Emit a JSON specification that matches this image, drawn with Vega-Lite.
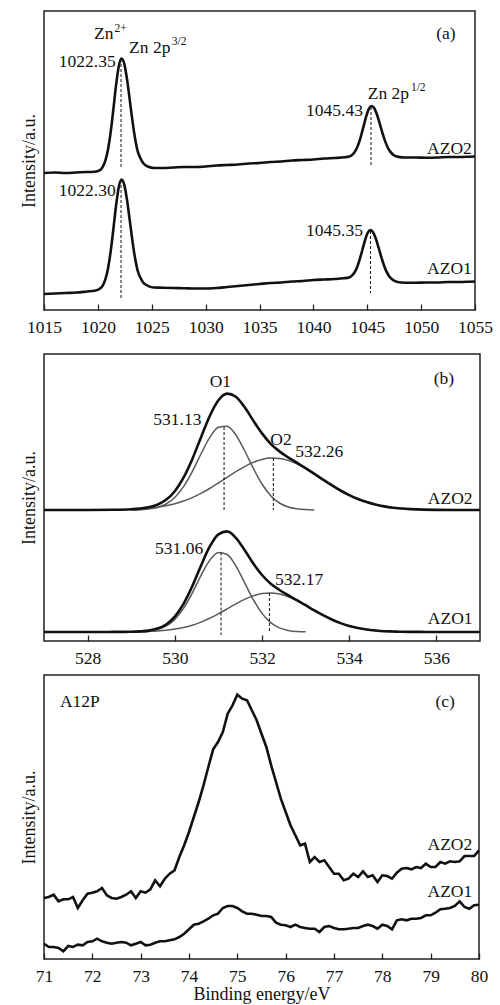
{
"$schema": "https://vega.github.io/schema/vega-lite/v6.json",
"padding": {"left": 19, "top": 10, "right": 3, "bottom": 0},
"background": "white",
"config": {
  "view": {"stroke": "#222", "strokeWidth": 1.5},
  "font": "Liberation Serif",
  "axis": {"grid": false, "labelFont": "Liberation Serif", "titleFont": "Liberation Serif", "labelFontSize": 17.5, "titleFontSize": 18, "titleFontWeight": "normal", "labelColor": "#111", "titleColor": "#111"},
  "axisX": {"domain": false, "tickSize": -6, "tickColor": "#222", "tickWidth": 1.3, "labelPadding": 14, "labelOverlap": false, "labelBound": false, "labelFlush": false, "format": "d"},
  "axisY": {"domain": false, "ticks": false, "labels": false, "titlePadding": 6},
  "text": {"font": "Liberation Serif", "fontSize": 17.5, "color": "#111"}
},
"datasets": {
  "a": [
    {"x":1015,"y":137,"s":"AZO2"},{"x":1016,"y":137.5,"s":"AZO2"},{"x":1017,"y":137,"s":"AZO2"},{"x":1018,"y":137.5,"s":"AZO2"},{"x":1019,"y":138,"s":"AZO2"},{"x":1019.7,"y":138.2,"s":"AZO2"},{"x":1020.2,"y":139.9,"s":"AZO2"},{"x":1020.45,"y":143.1,"s":"AZO2"},{"x":1020.7,"y":149.6,"s":"AZO2"},{"x":1020.95,"y":161.1,"s":"AZO2"},{"x":1021.2,"y":178.9,"s":"AZO2"},{"x":1021.45,"y":201.9,"s":"AZO2"},{"x":1021.7,"y":225.8,"s":"AZO2"},{"x":1021.95,"y":244.3,"s":"AZO2"},{"x":1022.2,"y":251.5,"s":"AZO2"},{"x":1022.45,"y":246.2,"s":"AZO2"},{"x":1022.7,"y":231.2,"s":"AZO2"},{"x":1022.95,"y":210.9,"s":"AZO2"},{"x":1023.2,"y":189.9,"s":"AZO2"},{"x":1023.45,"y":171.8,"s":"AZO2"},{"x":1023.7,"y":158.6,"s":"AZO2"},{"x":1023.95,"y":151.8,"s":"AZO2"},{"x":1024.2,"y":146.9,"s":"AZO2"},{"x":1024.7,"y":143.2,"s":"AZO2"},{"x":1025.2,"y":142,"s":"AZO2"},{"x":1026,"y":142,"s":"AZO2"},{"x":1027,"y":142.5,"s":"AZO2"},{"x":1028,"y":143,"s":"AZO2"},{"x":1029,"y":143,"s":"AZO2"},{"x":1030,"y":143.5,"s":"AZO2"},{"x":1031,"y":144.5,"s":"AZO2"},{"x":1032,"y":145,"s":"AZO2"},{"x":1033,"y":145.5,"s":"AZO2"},{"x":1034,"y":146.5,"s":"AZO2"},{"x":1035,"y":147,"s":"AZO2"},{"x":1036,"y":148,"s":"AZO2"},{"x":1037,"y":148.5,"s":"AZO2"},{"x":1038,"y":149.5,"s":"AZO2"},{"x":1039,"y":150,"s":"AZO2"},{"x":1040,"y":150.5,"s":"AZO2"},{"x":1041,"y":151.5,"s":"AZO2"},{"x":1042,"y":152,"s":"AZO2"},{"x":1042.9,"y":152.7,"s":"AZO2"},{"x":1043.4,"y":153.8,"s":"AZO2"},{"x":1043.65,"y":155.6,"s":"AZO2"},{"x":1043.9,"y":159.1,"s":"AZO2"},{"x":1044.15,"y":164.9,"s":"AZO2"},{"x":1044.4,"y":173.2,"s":"AZO2"},{"x":1044.65,"y":183.3,"s":"AZO2"},{"x":1044.9,"y":193.5,"s":"AZO2"},{"x":1045.15,"y":201.2,"s":"AZO2"},{"x":1045.4,"y":204,"s":"AZO2"},{"x":1045.65,"y":201.7,"s":"AZO2"},{"x":1045.9,"y":195.5,"s":"AZO2"},{"x":1046.15,"y":186.7,"s":"AZO2"},{"x":1046.4,"y":177.4,"s":"AZO2"},{"x":1046.65,"y":169.1,"s":"AZO2"},{"x":1046.9,"y":162.5,"s":"AZO2"},{"x":1047.15,"y":158.1,"s":"AZO2"},{"x":1047.4,"y":155.3,"s":"AZO2"},{"x":1047.9,"y":153.1,"s":"AZO2"},{"x":1048.5,"y":152.5,"s":"AZO2"},{"x":1049.5,"y":152.5,"s":"AZO2"},{"x":1050.5,"y":152.3,"s":"AZO2"},{"x":1051.5,"y":152.5,"s":"AZO2"},{"x":1052.5,"y":153,"s":"AZO2"},{"x":1053.5,"y":153,"s":"AZO2"},{"x":1054.5,"y":153.3,"s":"AZO2"},{"x":1055,"y":153.5,"s":"AZO2"},
    {"x":1015,"y":16,"s":"AZO1"},{"x":1016,"y":16.5,"s":"AZO1"},{"x":1017,"y":17,"s":"AZO1"},{"x":1018,"y":17.5,"s":"AZO1"},{"x":1019,"y":18.5,"s":"AZO1"},{"x":1019.7,"y":19.2,"s":"AZO1"},{"x":1020.2,"y":21.4,"s":"AZO1"},{"x":1020.45,"y":24.4,"s":"AZO1"},{"x":1020.7,"y":30.8,"s":"AZO1"},{"x":1020.95,"y":42.1,"s":"AZO1"},{"x":1021.2,"y":59.6,"s":"AZO1"},{"x":1021.45,"y":82,"s":"AZO1"},{"x":1021.7,"y":105.5,"s":"AZO1"},{"x":1021.95,"y":123.6,"s":"AZO1"},{"x":1022.2,"y":130.5,"s":"AZO1"},{"x":1022.45,"y":125.2,"s":"AZO1"},{"x":1022.7,"y":110.4,"s":"AZO1"},{"x":1022.95,"y":90.4,"s":"AZO1"},{"x":1023.2,"y":69.7,"s":"AZO1"},{"x":1023.45,"y":52,"s":"AZO1"},{"x":1023.7,"y":39,"s":"AZO1"},{"x":1023.95,"y":32.2,"s":"AZO1"},{"x":1024.2,"y":27.6,"s":"AZO1"},{"x":1024.7,"y":23.9,"s":"AZO1"},{"x":1025.2,"y":22.5,"s":"AZO1"},{"x":1026,"y":22.3,"s":"AZO1"},{"x":1027,"y":22,"s":"AZO1"},{"x":1028,"y":21.8,"s":"AZO1"},{"x":1029,"y":21.5,"s":"AZO1"},{"x":1030,"y":21.5,"s":"AZO1"},{"x":1031,"y":22,"s":"AZO1"},{"x":1032,"y":23,"s":"AZO1"},{"x":1033,"y":24,"s":"AZO1"},{"x":1034,"y":25,"s":"AZO1"},{"x":1035,"y":26,"s":"AZO1"},{"x":1036,"y":27,"s":"AZO1"},{"x":1037,"y":27.5,"s":"AZO1"},{"x":1038,"y":28.5,"s":"AZO1"},{"x":1039,"y":29,"s":"AZO1"},{"x":1040,"y":30,"s":"AZO1"},{"x":1041,"y":30.5,"s":"AZO1"},{"x":1042,"y":31,"s":"AZO1"},{"x":1042.8,"y":31.7,"s":"AZO1"},{"x":1043.3,"y":32.5,"s":"AZO1"},{"x":1043.55,"y":34.1,"s":"AZO1"},{"x":1043.8,"y":37.3,"s":"AZO1"},{"x":1044.05,"y":42.6,"s":"AZO1"},{"x":1044.3,"y":50.6,"s":"AZO1"},{"x":1044.55,"y":60.2,"s":"AZO1"},{"x":1044.8,"y":70,"s":"AZO1"},{"x":1045.05,"y":77.3,"s":"AZO1"},{"x":1045.3,"y":80,"s":"AZO1"},{"x":1045.55,"y":77.6,"s":"AZO1"},{"x":1045.8,"y":71.2,"s":"AZO1"},{"x":1046.05,"y":62.5,"s":"AZO1"},{"x":1046.3,"y":53.1,"s":"AZO1"},{"x":1046.55,"y":44.8,"s":"AZO1"},{"x":1046.8,"y":38.1,"s":"AZO1"},{"x":1047.05,"y":33.6,"s":"AZO1"},{"x":1047.3,"y":30.7,"s":"AZO1"},{"x":1047.8,"y":28.1,"s":"AZO1"},{"x":1048.5,"y":27.3,"s":"AZO1"},{"x":1049.5,"y":27.3,"s":"AZO1"},{"x":1050.5,"y":27.5,"s":"AZO1"},{"x":1051.5,"y":27.5,"s":"AZO1"},{"x":1052.5,"y":28,"s":"AZO1"},{"x":1053.5,"y":28,"s":"AZO1"},{"x":1054.5,"y":28.3,"s":"AZO1"},{"x":1055,"y":28.5,"s":"AZO1"}
  ],
  "ra": [{"x":1022.15,"y":251,"y2":142},{"x":1022.15,"y":130,"y2":12},{"x":1045.35,"y":203,"y2":144},{"x":1045.3,"y":79,"y2":17}],
  "ta_r": [{"x":1021.65,"y":248,"t":"1022.35"},{"x":1021.65,"y":119,"t":"1022.30"},{"x":1044.6,"y":199,"t":"1045.43"},{"x":1044.6,"y":79,"t":"1045.35"},{"x":1054.7,"y":160.7,"t":"AZO2"},{"x":1054.7,"y":40.7,"t":"AZO1"}],
  "ta_l": [{"x":1019.65,"y":275.7,"t":"Zn"},{"x":1022.9,"y":262.3,"t":"Zn 2p"},{"x":1045.05,"y":215.7,"t":"Zn 2p"},{"x":1051.4,"y":275.7,"t":"(a)"}],
  "ta_s": [{"x":1021.55,"y":281,"t":"2+"},{"x":1026.85,"y":268,"t":"3/2"},{"x":1049.05,"y":222,"t":"1/2"}],
  "b": [
    {"x":527,"y":131,"s":"AZO2","c":"env"},{"x":528,"y":131,"s":"AZO2","c":"env"},{"x":528.6,"y":131.2,"s":"AZO2","c":"env"},
    {"x":529.0,"y":131.7,"s":"AZO2","c":"env"},{"x":529.2,"y":132.4,"s":"AZO2","c":"env"},{"x":529.4,"y":133.7,"s":"AZO2","c":"env"},{"x":529.6,"y":136.3,"s":"AZO2","c":"env"},{"x":529.8,"y":141.2,"s":"AZO2","c":"env"},{"x":530.0,"y":149.8,"s":"AZO2","c":"env"},{"x":530.2,"y":163.3,"s":"AZO2","c":"env"},{"x":530.4,"y":181.8,"s":"AZO2","c":"env"},{"x":530.6,"y":203.6,"s":"AZO2","c":"env"},{"x":530.8,"y":224.8,"s":"AZO2","c":"env"},{"x":531.0,"y":240.7,"s":"AZO2","c":"env"},{"x":531.2,"y":247.4,"s":"AZO2","c":"env"},{"x":531.4,"y":244.3,"s":"AZO2","c":"env"},{"x":531.6,"y":233.9,"s":"AZO2","c":"env"},{"x":531.8,"y":220.4,"s":"AZO2","c":"env"},{"x":532.0,"y":207.6,"s":"AZO2","c":"env"},{"x":532.2,"y":197.2,"s":"AZO2","c":"env"},{"x":532.4,"y":189.6,"s":"AZO2","c":"env"},{"x":532.6,"y":183.6,"s":"AZO2","c":"env"},{"x":532.8,"y":178.3,"s":"AZO2","c":"env"},{"x":533.0,"y":172.9,"s":"AZO2","c":"env"},{"x":533.2,"y":167.2,"s":"AZO2","c":"env"},{"x":533.4,"y":161.4,"s":"AZO2","c":"env"},{"x":533.6,"y":155.8,"s":"AZO2","c":"env"},{"x":533.8,"y":150.5,"s":"AZO2","c":"env"},{"x":534.0,"y":145.9,"s":"AZO2","c":"env"},{"x":534.2,"y":142.0,"s":"AZO2","c":"env"},{"x":534.4,"y":138.9,"s":"AZO2","c":"env"},{"x":534.6,"y":136.4,"s":"AZO2","c":"env"},{"x":534.8,"y":134.6,"s":"AZO2","c":"env"},{"x":535.0,"y":133.3,"s":"AZO2","c":"env"},{"x":535.2,"y":132.5,"s":"AZO2","c":"env"},{"x":535.4,"y":131.9,"s":"AZO2","c":"env"},{"x":536,"y":131.1,"s":"AZO2","c":"env"},{"x":537,"y":131,"s":"AZO2","c":"env"},
    {"x":529.0,"y":131.1,"s":"AZO2","c":"O1"},{"x":529.2,"y":131.3,"s":"AZO2","c":"O1"},{"x":529.4,"y":131.9,"s":"AZO2","c":"O1"},{"x":529.6,"y":133.5,"s":"AZO2","c":"O1"},{"x":529.8,"y":137.0,"s":"AZO2","c":"O1"},{"x":530.0,"y":143.5,"s":"AZO2","c":"O1"},{"x":530.2,"y":154.3,"s":"AZO2","c":"O1"},{"x":530.4,"y":169.4,"s":"AZO2","c":"O1"},{"x":530.6,"y":187.0,"s":"AZO2","c":"O1"},{"x":530.8,"y":203.3,"s":"AZO2","c":"O1"},{"x":531.0,"y":213.7,"s":"AZO2","c":"O1"},{"x":531.2,"y":214.7,"s":"AZO2","c":"O1"},{"x":531.4,"y":206.0,"s":"AZO2","c":"O1"},{"x":531.6,"y":190.5,"s":"AZO2","c":"O1"},{"x":531.8,"y":172.8,"s":"AZO2","c":"O1"},{"x":532.0,"y":157.0,"s":"AZO2","c":"O1"},{"x":532.2,"y":145.3,"s":"AZO2","c":"O1"},{"x":532.4,"y":138.0,"s":"AZO2","c":"O1"},{"x":532.6,"y":134.0,"s":"AZO2","c":"O1"},{"x":532.8,"y":132.2,"s":"AZO2","c":"O1"},{"x":533.0,"y":131.4,"s":"AZO2","c":"O1"},{"x":533.2,"y":131.1,"s":"AZO2","c":"O1"},
    {"x":529.0,"y":131.6,"s":"AZO2","c":"O2"},{"x":529.2,"y":132.1,"s":"AZO2","c":"O2"},{"x":529.4,"y":132.8,"s":"AZO2","c":"O2"},{"x":529.6,"y":133.8,"s":"AZO2","c":"O2"},{"x":529.8,"y":135.3,"s":"AZO2","c":"O2"},{"x":530.0,"y":137.3,"s":"AZO2","c":"O2"},{"x":530.2,"y":140.0,"s":"AZO2","c":"O2"},{"x":530.4,"y":143.4,"s":"AZO2","c":"O2"},{"x":530.6,"y":147.6,"s":"AZO2","c":"O2"},{"x":530.8,"y":152.5,"s":"AZO2","c":"O2"},{"x":531.0,"y":158.0,"s":"AZO2","c":"O2"},{"x":531.2,"y":163.7,"s":"AZO2","c":"O2"},{"x":531.4,"y":169.3,"s":"AZO2","c":"O2"},{"x":531.6,"y":174.4,"s":"AZO2","c":"O2"},{"x":531.8,"y":178.6,"s":"AZO2","c":"O2"},{"x":532.0,"y":181.6,"s":"AZO2","c":"O2"},{"x":532.2,"y":182.9,"s":"AZO2","c":"O2"},{"x":532.4,"y":182.6,"s":"AZO2","c":"O2"},{"x":532.6,"y":180.6,"s":"AZO2","c":"O2"},{"x":532.8,"y":177.1,"s":"AZO2","c":"O2"},{"x":533.0,"y":172.5,"s":"AZO2","c":"O2"},{"x":533.2,"y":167.1,"s":"AZO2","c":"O2"},{"x":533.4,"y":161.4,"s":"AZO2","c":"O2"},{"x":533.6,"y":155.8,"s":"AZO2","c":"O2"},{"x":533.8,"y":150.5,"s":"AZO2","c":"O2"},{"x":534.0,"y":145.9,"s":"AZO2","c":"O2"},{"x":534.2,"y":142.0,"s":"AZO2","c":"O2"},{"x":534.4,"y":138.9,"s":"AZO2","c":"O2"},{"x":534.6,"y":136.4,"s":"AZO2","c":"O2"},{"x":534.8,"y":134.6,"s":"AZO2","c":"O2"},{"x":535.0,"y":133.3,"s":"AZO2","c":"O2"},{"x":535.2,"y":132.5,"s":"AZO2","c":"O2"},{"x":535.4,"y":131.9,"s":"AZO2","c":"O2"},
    {"x":527,"y":9,"s":"AZO1","c":"env"},{"x":528,"y":9,"s":"AZO1","c":"env"},{"x":528.6,"y":9.1,"s":"AZO1","c":"env"},
    {"x":529.0,"y":9.2,"s":"AZO1","c":"env"},{"x":529.2,"y":9.6,"s":"AZO1","c":"env"},{"x":529.4,"y":10.4,"s":"AZO1","c":"env"},{"x":529.6,"y":12.4,"s":"AZO1","c":"env"},{"x":529.8,"y":16.5,"s":"AZO1","c":"env"},{"x":530.0,"y":24.4,"s":"AZO1","c":"env"},{"x":530.2,"y":37.1,"s":"AZO1","c":"env"},{"x":530.4,"y":54.7,"s":"AZO1","c":"env"},{"x":530.6,"y":75.3,"s":"AZO1","c":"env"},{"x":530.8,"y":94.3,"s":"AZO1","c":"env"},{"x":531.0,"y":106.7,"s":"AZO1","c":"env"},{"x":531.2,"y":109.6,"s":"AZO1","c":"env"},{"x":531.4,"y":103.2,"s":"AZO1","c":"env"},{"x":531.6,"y":91.0,"s":"AZO1","c":"env"},{"x":531.8,"y":77.5,"s":"AZO1","c":"env"},{"x":532.0,"y":66.0,"s":"AZO1","c":"env"},{"x":532.2,"y":57.3,"s":"AZO1","c":"env"},{"x":532.4,"y":51.0,"s":"AZO1","c":"env"},{"x":532.6,"y":45.8,"s":"AZO1","c":"env"},{"x":532.8,"y":40.8,"s":"AZO1","c":"env"},{"x":533.0,"y":35.8,"s":"AZO1","c":"env"},{"x":533.2,"y":30.6,"s":"AZO1","c":"env"},{"x":533.4,"y":25.8,"s":"AZO1","c":"env"},{"x":533.6,"y":21.5,"s":"AZO1","c":"env"},{"x":533.8,"y":17.9,"s":"AZO1","c":"env"},{"x":534.0,"y":15.1,"s":"AZO1","c":"env"},{"x":534.2,"y":13.0,"s":"AZO1","c":"env"},{"x":534.4,"y":11.5,"s":"AZO1","c":"env"},{"x":534.6,"y":10.5,"s":"AZO1","c":"env"},{"x":534.8,"y":9.8,"s":"AZO1","c":"env"},{"x":535.0,"y":9.5,"s":"AZO1","c":"env"},{"x":535.2,"y":9.2,"s":"AZO1","c":"env"},{"x":535.6,"y":9.1,"s":"AZO1","c":"env"},{"x":536,"y":9,"s":"AZO1","c":"env"},{"x":537,"y":9,"s":"AZO1","c":"env"},
    {"x":529.0,"y":9.1,"s":"AZO1","c":"O1"},{"x":529.2,"y":9.3,"s":"AZO1","c":"O1"},{"x":529.4,"y":9.8,"s":"AZO1","c":"O1"},{"x":529.6,"y":11.4,"s":"AZO1","c":"O1"},{"x":529.8,"y":14.8,"s":"AZO1","c":"O1"},{"x":530.0,"y":21.5,"s":"AZO1","c":"O1"},{"x":530.2,"y":32.6,"s":"AZO1","c":"O1"},{"x":530.4,"y":47.9,"s":"AZO1","c":"O1"},{"x":530.6,"y":65.4,"s":"AZO1","c":"O1"},{"x":530.8,"y":80.6,"s":"AZO1","c":"O1"},{"x":531.0,"y":88.5,"s":"AZO1","c":"O1"},{"x":531.2,"y":86.5,"s":"AZO1","c":"O1"},{"x":531.4,"y":75.1,"s":"AZO1","c":"O1"},{"x":531.6,"y":58.4,"s":"AZO1","c":"O1"},{"x":531.8,"y":41.4,"s":"AZO1","c":"O1"},{"x":532.0,"y":27.6,"s":"AZO1","c":"O1"},{"x":532.2,"y":18.3,"s":"AZO1","c":"O1"},{"x":532.4,"y":13.1,"s":"AZO1","c":"O1"},{"x":532.6,"y":10.6,"s":"AZO1","c":"O1"},{"x":532.8,"y":9.5,"s":"AZO1","c":"O1"},{"x":533.0,"y":9.2,"s":"AZO1","c":"O1"},
    {"x":529.0,"y":9.2,"s":"AZO1","c":"O2"},{"x":529.2,"y":9.3,"s":"AZO1","c":"O2"},{"x":529.4,"y":9.6,"s":"AZO1","c":"O2"},{"x":529.6,"y":10.0,"s":"AZO1","c":"O2"},{"x":529.8,"y":10.7,"s":"AZO1","c":"O2"},{"x":530.0,"y":11.9,"s":"AZO1","c":"O2"},{"x":530.2,"y":13.5,"s":"AZO1","c":"O2"},{"x":530.4,"y":15.8,"s":"AZO1","c":"O2"},{"x":530.6,"y":18.9,"s":"AZO1","c":"O2"},{"x":530.8,"y":22.7,"s":"AZO1","c":"O2"},{"x":531.0,"y":27.2,"s":"AZO1","c":"O2"},{"x":531.2,"y":32.1,"s":"AZO1","c":"O2"},{"x":531.4,"y":37.1,"s":"AZO1","c":"O2"},{"x":531.6,"y":41.6,"s":"AZO1","c":"O2"},{"x":531.8,"y":45.1,"s":"AZO1","c":"O2"},{"x":532.0,"y":47.4,"s":"AZO1","c":"O2"},{"x":532.2,"y":48.0,"s":"AZO1","c":"O2"},{"x":532.4,"y":46.9,"s":"AZO1","c":"O2"},{"x":532.6,"y":44.2,"s":"AZO1","c":"O2"},{"x":532.8,"y":40.3,"s":"AZO1","c":"O2"},{"x":533.0,"y":35.6,"s":"AZO1","c":"O2"},{"x":533.2,"y":30.6,"s":"AZO1","c":"O2"},{"x":533.4,"y":25.8,"s":"AZO1","c":"O2"},{"x":533.6,"y":21.5,"s":"AZO1","c":"O2"},{"x":533.8,"y":17.9,"s":"AZO1","c":"O2"},{"x":534.0,"y":15.1,"s":"AZO1","c":"O2"},{"x":534.2,"y":13.0,"s":"AZO1","c":"O2"},{"x":534.4,"y":11.5,"s":"AZO1","c":"O2"},{"x":534.6,"y":10.5,"s":"AZO1","c":"O2"},{"x":534.8,"y":9.8,"s":"AZO1","c":"O2"},{"x":535.0,"y":9.5,"s":"AZO1","c":"O2"},{"x":535.2,"y":9.2,"s":"AZO1","c":"O2"}
  ],
  "rb": [{"x":531.13,"y":214,"y2":130},{"x":532.26,"y":183,"y2":131},{"x":531.06,"y":88.5,"y2":6},{"x":532.17,"y":48,"y2":9}],
  "tb_l": [{"x":530.8,"y":259,"t":"O1"},{"x":532.19,"y":200.7,"t":"O2"},{"x":532.76,"y":189,"t":"532.26"},{"x":532.3,"y":60.7,"t":"532.17"},{"x":535.94,"y":262.3,"t":"(b)"}],
  "tb_r": [{"x":530.61,"y":220.7,"t":"531.13"},{"x":530.65,"y":92.3,"t":"531.06"},{"x":536.83,"y":142.3,"t":"AZO2"},{"x":536.83,"y":22.3,"t":"AZO1"}],
  "c": [
    {"x":71.0,"y":61,"s":"AZO2"},{"x":71.1,"y":62,"s":"AZO2"},{"x":71.2,"y":64.3,"s":"AZO2"},{"x":71.3,"y":57.7,"s":"AZO2"},{"x":71.4,"y":59.7,"s":"AZO2"},{"x":71.5,"y":59.7,"s":"AZO2"},{"x":71.6,"y":62,"s":"AZO2"},{"x":71.7,"y":51,"s":"AZO2"},{"x":71.8,"y":58.7,"s":"AZO2"},{"x":71.9,"y":65.3,"s":"AZO2"},
    {"x":72.0,"y":66.3,"s":"AZO2"},{"x":72.1,"y":67.7,"s":"AZO2"},{"x":72.2,"y":71,"s":"AZO2"},{"x":72.3,"y":63.7,"s":"AZO2"},{"x":72.4,"y":61,"s":"AZO2"},{"x":72.5,"y":60.3,"s":"AZO2"},{"x":72.6,"y":62,"s":"AZO2"},{"x":72.7,"y":64.3,"s":"AZO2"},{"x":72.8,"y":67.7,"s":"AZO2"},{"x":72.9,"y":61,"s":"AZO2"},
    {"x":73.0,"y":67.7,"s":"AZO2"},{"x":73.1,"y":66.3,"s":"AZO2"},{"x":73.2,"y":69.7,"s":"AZO2"},{"x":73.3,"y":78.7,"s":"AZO2"},{"x":73.4,"y":72.7,"s":"AZO2"},{"x":73.5,"y":80.3,"s":"AZO2"},{"x":73.6,"y":85.3,"s":"AZO2"},{"x":73.7,"y":88.7,"s":"AZO2"},{"x":73.8,"y":102,"s":"AZO2"},{"x":73.9,"y":113.7,"s":"AZO2"},
    {"x":74.0,"y":127,"s":"AZO2"},{"x":74.1,"y":142,"s":"AZO2"},{"x":74.2,"y":157,"s":"AZO2"},{"x":74.3,"y":173.7,"s":"AZO2"},{"x":74.4,"y":192,"s":"AZO2"},{"x":74.5,"y":209.7,"s":"AZO2"},{"x":74.6,"y":217,"s":"AZO2"},{"x":74.7,"y":227,"s":"AZO2"},{"x":74.8,"y":245.3,"s":"AZO2"},{"x":74.9,"y":253.7,"s":"AZO2"},
    {"x":75.0,"y":264.3,"s":"AZO2"},{"x":75.1,"y":260.3,"s":"AZO2"},{"x":75.2,"y":258.7,"s":"AZO2"},{"x":75.3,"y":248.7,"s":"AZO2"},{"x":75.4,"y":238.7,"s":"AZO2"},{"x":75.5,"y":225.3,"s":"AZO2"},{"x":75.6,"y":212,"s":"AZO2"},{"x":75.7,"y":193.7,"s":"AZO2"},{"x":75.8,"y":177,"s":"AZO2"},{"x":75.9,"y":160.3,"s":"AZO2"},
    {"x":76.0,"y":147,"s":"AZO2"},{"x":76.1,"y":133.7,"s":"AZO2"},{"x":76.2,"y":123.7,"s":"AZO2"},{"x":76.3,"y":113.7,"s":"AZO2"},{"x":76.4,"y":115.3,"s":"AZO2"},{"x":76.5,"y":97,"s":"AZO2"},{"x":76.6,"y":102,"s":"AZO2"},{"x":76.7,"y":97,"s":"AZO2"},{"x":76.8,"y":98.7,"s":"AZO2"},{"x":76.9,"y":92,"s":"AZO2"},
    {"x":77.0,"y":85.3,"s":"AZO2"},{"x":77.1,"y":85.3,"s":"AZO2"},{"x":77.2,"y":78.7,"s":"AZO2"},{"x":77.3,"y":80.3,"s":"AZO2"},{"x":77.4,"y":85.3,"s":"AZO2"},{"x":77.5,"y":82,"s":"AZO2"},{"x":77.6,"y":87.7,"s":"AZO2"},{"x":77.7,"y":82,"s":"AZO2"},{"x":77.8,"y":83.7,"s":"AZO2"},{"x":77.9,"y":77,"s":"AZO2"},
    {"x":78.0,"y":83.7,"s":"AZO2"},{"x":78.1,"y":83,"s":"AZO2"},{"x":78.2,"y":80.3,"s":"AZO2"},{"x":78.3,"y":86.3,"s":"AZO2"},{"x":78.4,"y":90.3,"s":"AZO2"},{"x":78.5,"y":91,"s":"AZO2"},{"x":78.6,"y":89.7,"s":"AZO2"},{"x":78.7,"y":92,"s":"AZO2"},{"x":78.8,"y":91,"s":"AZO2"},{"x":78.9,"y":95.3,"s":"AZO2"},
    {"x":79.0,"y":92,"s":"AZO2"},{"x":79.1,"y":92,"s":"AZO2"},{"x":79.2,"y":97,"s":"AZO2"},{"x":79.3,"y":95.3,"s":"AZO2"},{"x":79.4,"y":97.7,"s":"AZO2"},{"x":79.5,"y":97,"s":"AZO2"},{"x":79.6,"y":97.7,"s":"AZO2"},{"x":79.7,"y":103,"s":"AZO2"},{"x":79.8,"y":103,"s":"AZO2"},{"x":79.9,"y":103,"s":"AZO2"},{"x":80.0,"y":108.7,"s":"AZO2"},
    {"x":71.0,"y":15.3,"s":"AZO1"},{"x":71.1,"y":12,"s":"AZO1"},{"x":71.2,"y":12,"s":"AZO1"},{"x":71.3,"y":11,"s":"AZO1"},{"x":71.4,"y":7.7,"s":"AZO1"},{"x":71.5,"y":13,"s":"AZO1"},{"x":71.6,"y":12,"s":"AZO1"},{"x":71.7,"y":14.3,"s":"AZO1"},{"x":71.8,"y":13.7,"s":"AZO1"},{"x":71.9,"y":17,"s":"AZO1"},
    {"x":72.0,"y":17.7,"s":"AZO1"},{"x":72.1,"y":20.3,"s":"AZO1"},{"x":72.2,"y":17.7,"s":"AZO1"},{"x":72.3,"y":16.3,"s":"AZO1"},{"x":72.4,"y":15.3,"s":"AZO1"},{"x":72.5,"y":16.3,"s":"AZO1"},{"x":72.6,"y":17,"s":"AZO1"},{"x":72.7,"y":16.3,"s":"AZO1"},{"x":72.8,"y":13.7,"s":"AZO1"},{"x":72.9,"y":15.3,"s":"AZO1"},
    {"x":73.0,"y":17,"s":"AZO1"},{"x":73.1,"y":13.7,"s":"AZO1"},{"x":73.2,"y":14.3,"s":"AZO1"},{"x":73.3,"y":16.3,"s":"AZO1"},{"x":73.4,"y":17.7,"s":"AZO1"},{"x":73.5,"y":17.7,"s":"AZO1"},{"x":73.6,"y":18.7,"s":"AZO1"},{"x":73.7,"y":19.7,"s":"AZO1"},{"x":73.8,"y":22,"s":"AZO1"},{"x":73.9,"y":25.3,"s":"AZO1"},
    {"x":74.0,"y":29.7,"s":"AZO1"},{"x":74.1,"y":34.3,"s":"AZO1"},{"x":74.2,"y":35.3,"s":"AZO1"},{"x":74.3,"y":37.7,"s":"AZO1"},{"x":74.4,"y":40.3,"s":"AZO1"},{"x":74.5,"y":43.7,"s":"AZO1"},{"x":74.6,"y":45.3,"s":"AZO1"},{"x":74.7,"y":51,"s":"AZO1"},{"x":74.8,"y":53,"s":"AZO1"},{"x":74.9,"y":53,"s":"AZO1"},
    {"x":75.0,"y":51,"s":"AZO1"},{"x":75.1,"y":47.7,"s":"AZO1"},{"x":75.2,"y":45.3,"s":"AZO1"},{"x":75.3,"y":45.3,"s":"AZO1"},{"x":75.4,"y":44.3,"s":"AZO1"},{"x":75.5,"y":43,"s":"AZO1"},{"x":75.6,"y":43,"s":"AZO1"},{"x":75.7,"y":42,"s":"AZO1"},{"x":75.8,"y":36.3,"s":"AZO1"},{"x":75.9,"y":34.3,"s":"AZO1"},
    {"x":76.0,"y":33.7,"s":"AZO1"},{"x":76.1,"y":32,"s":"AZO1"},{"x":76.2,"y":34.3,"s":"AZO1"},{"x":76.3,"y":32,"s":"AZO1"},{"x":76.4,"y":31,"s":"AZO1"},{"x":76.5,"y":30.3,"s":"AZO1"},{"x":76.6,"y":30.3,"s":"AZO1"},{"x":76.7,"y":27,"s":"AZO1"},{"x":76.8,"y":32,"s":"AZO1"},{"x":76.9,"y":33,"s":"AZO1"},
    {"x":77.0,"y":31,"s":"AZO1"},{"x":77.1,"y":29.7,"s":"AZO1"},{"x":77.2,"y":29.7,"s":"AZO1"},{"x":77.3,"y":30.3,"s":"AZO1"},{"x":77.4,"y":31,"s":"AZO1"},{"x":77.5,"y":31,"s":"AZO1"},{"x":77.6,"y":33,"s":"AZO1"},{"x":77.7,"y":34.3,"s":"AZO1"},{"x":77.8,"y":33,"s":"AZO1"},{"x":77.9,"y":30.3,"s":"AZO1"},
    {"x":78.0,"y":34.3,"s":"AZO1"},{"x":78.1,"y":33,"s":"AZO1"},{"x":78.2,"y":29.7,"s":"AZO1"},{"x":78.3,"y":38.7,"s":"AZO1"},{"x":78.4,"y":39.7,"s":"AZO1"},{"x":78.5,"y":38.7,"s":"AZO1"},{"x":78.6,"y":40.3,"s":"AZO1"},{"x":78.7,"y":40.3,"s":"AZO1"},{"x":78.8,"y":41,"s":"AZO1"},{"x":78.9,"y":43.7,"s":"AZO1"},
    {"x":79.0,"y":43.7,"s":"AZO1"},{"x":79.1,"y":46.3,"s":"AZO1"},{"x":79.2,"y":49.7,"s":"AZO1"},{"x":79.3,"y":50.3,"s":"AZO1"},{"x":79.4,"y":51,"s":"AZO1"},{"x":79.5,"y":53,"s":"AZO1"},{"x":79.6,"y":57.7,"s":"AZO1"},{"x":79.7,"y":52,"s":"AZO1"},{"x":79.8,"y":50.3,"s":"AZO1"},{"x":79.9,"y":53.7,"s":"AZO1"},{"x":80.0,"y":54.3,"s":"AZO1"}
  ],
  "tc_l": [{"x":71.33,"y":257,"t":"A12P"},{"x":79.1,"y":257,"t":"(c)"}],
  "tc_r": [{"x":79.86,"y":113.7,"t":"AZO2"},{"x":79.86,"y":67,"t":"AZO1"}]
},
"spacing": 16,
"vconcat": [
  {
    "width": 431, "height": 299,
    "layer": [
      {"data": {"name": "a"}, "mark": {"type": "line", "color": "#111", "strokeWidth": 2.6, "interpolate": "monotone"},
       "encoding": {
         "x": {"field": "x", "type": "quantitative", "scale": {"domain": [1015, 1055], "nice": false, "zero": false}, "axis": {"title": null, "values": [1015,1020,1025,1030,1035,1040,1045,1050,1055]}},
         "y": {"field": "y", "type": "quantitative", "scale": {"domain": [0, 299], "nice": false}, "axis": {"title": "Intensity/a.u."}},
         "detail": {"field": "s"}}},
      {"data": {"name": "ra"}, "mark": {"type": "rule", "color": "#111", "strokeWidth": 1, "strokeDash": [3, 2]},
       "encoding": {"x": {"field": "x", "type": "quantitative"}, "y": {"field": "y", "type": "quantitative"}, "y2": {"field": "y2"}}},
      {"data": {"name": "ta_r"}, "mark": {"type": "text", "align": "right", "baseline": "middle"},
       "encoding": {"x": {"field": "x", "type": "quantitative"}, "y": {"field": "y", "type": "quantitative"}, "text": {"field": "t"}}},
      {"data": {"name": "ta_l"}, "mark": {"type": "text", "align": "left", "baseline": "middle"},
       "encoding": {"x": {"field": "x", "type": "quantitative"}, "y": {"field": "y", "type": "quantitative"}, "text": {"field": "t"}}},
      {"data": {"name": "ta_s"}, "mark": {"type": "text", "align": "left", "baseline": "middle", "fontSize": 11.5},
       "encoding": {"x": {"field": "x", "type": "quantitative"}, "y": {"field": "y", "type": "quantitative"}, "text": {"field": "t"}}}
    ]
  },
  {
    "spacing": 6,
    "vconcat": [
      {
        "width": 436, "height": 287,
        "layer": [
          {"data": {"name": "b"}, "transform": [{"filter": "datum.c !== 'env'"}],
           "mark": {"type": "line", "color": "#5a5a5a", "strokeWidth": 1.5, "interpolate": "monotone"},
           "encoding": {
             "x": {"field": "x", "type": "quantitative", "scale": {"domain": [527, 537], "nice": false, "zero": false}, "axis": {"title": null, "values": [528,530,532,534,536]}},
             "y": {"field": "y", "type": "quantitative", "scale": {"domain": [0, 287], "nice": false}, "axis": {"title": "Intensity/a.u."}},
             "detail": [{"field": "s"}, {"field": "c"}]}},
          {"data": {"name": "b"}, "transform": [{"filter": "datum.c === 'env'"}],
           "mark": {"type": "line", "color": "#111", "strokeWidth": 2.6, "interpolate": "monotone"},
           "encoding": {"x": {"field": "x", "type": "quantitative"}, "y": {"field": "y", "type": "quantitative"}, "detail": {"field": "s"}}},
          {"data": {"name": "rb"}, "mark": {"type": "rule", "color": "#111", "strokeWidth": 1, "strokeDash": [3, 2]},
           "encoding": {"x": {"field": "x", "type": "quantitative"}, "y": {"field": "y", "type": "quantitative"}, "y2": {"field": "y2"}}},
          {"data": {"name": "tb_r"}, "mark": {"type": "text", "align": "right", "baseline": "middle"},
           "encoding": {"x": {"field": "x", "type": "quantitative"}, "y": {"field": "y", "type": "quantitative"}, "text": {"field": "t"}}},
          {"data": {"name": "tb_l"}, "mark": {"type": "text", "align": "left", "baseline": "middle"},
           "encoding": {"x": {"field": "x", "type": "quantitative"}, "y": {"field": "y", "type": "quantitative"}, "text": {"field": "t"}}}
        ]
      },
      {
        "width": 435, "height": 284,
        "layer": [
          {"data": {"name": "c"}, "mark": {"type": "line", "color": "#111", "strokeWidth": 2.6},
           "encoding": {
             "x": {"field": "x", "type": "quantitative", "scale": {"domain": [71, 80], "nice": false, "zero": false}, "axis": {"title": "Binding energy/eV", "titlePadding": 1, "values": [71,72,73,74,75,76,77,78,79,80]}},
             "y": {"field": "y", "type": "quantitative", "scale": {"domain": [0, 284], "nice": false}, "axis": {"title": "Intensity/a.u."}},
             "detail": {"field": "s"}}},
          {"data": {"name": "tc_r"}, "mark": {"type": "text", "align": "right", "baseline": "middle"},
           "encoding": {"x": {"field": "x", "type": "quantitative"}, "y": {"field": "y", "type": "quantitative"}, "text": {"field": "t"}}},
          {"data": {"name": "tc_l"}, "mark": {"type": "text", "align": "left", "baseline": "middle"},
           "encoding": {"x": {"field": "x", "type": "quantitative"}, "y": {"field": "y", "type": "quantitative"}, "text": {"field": "t"}}}
        ]
      }
    ]
  }
]
}
